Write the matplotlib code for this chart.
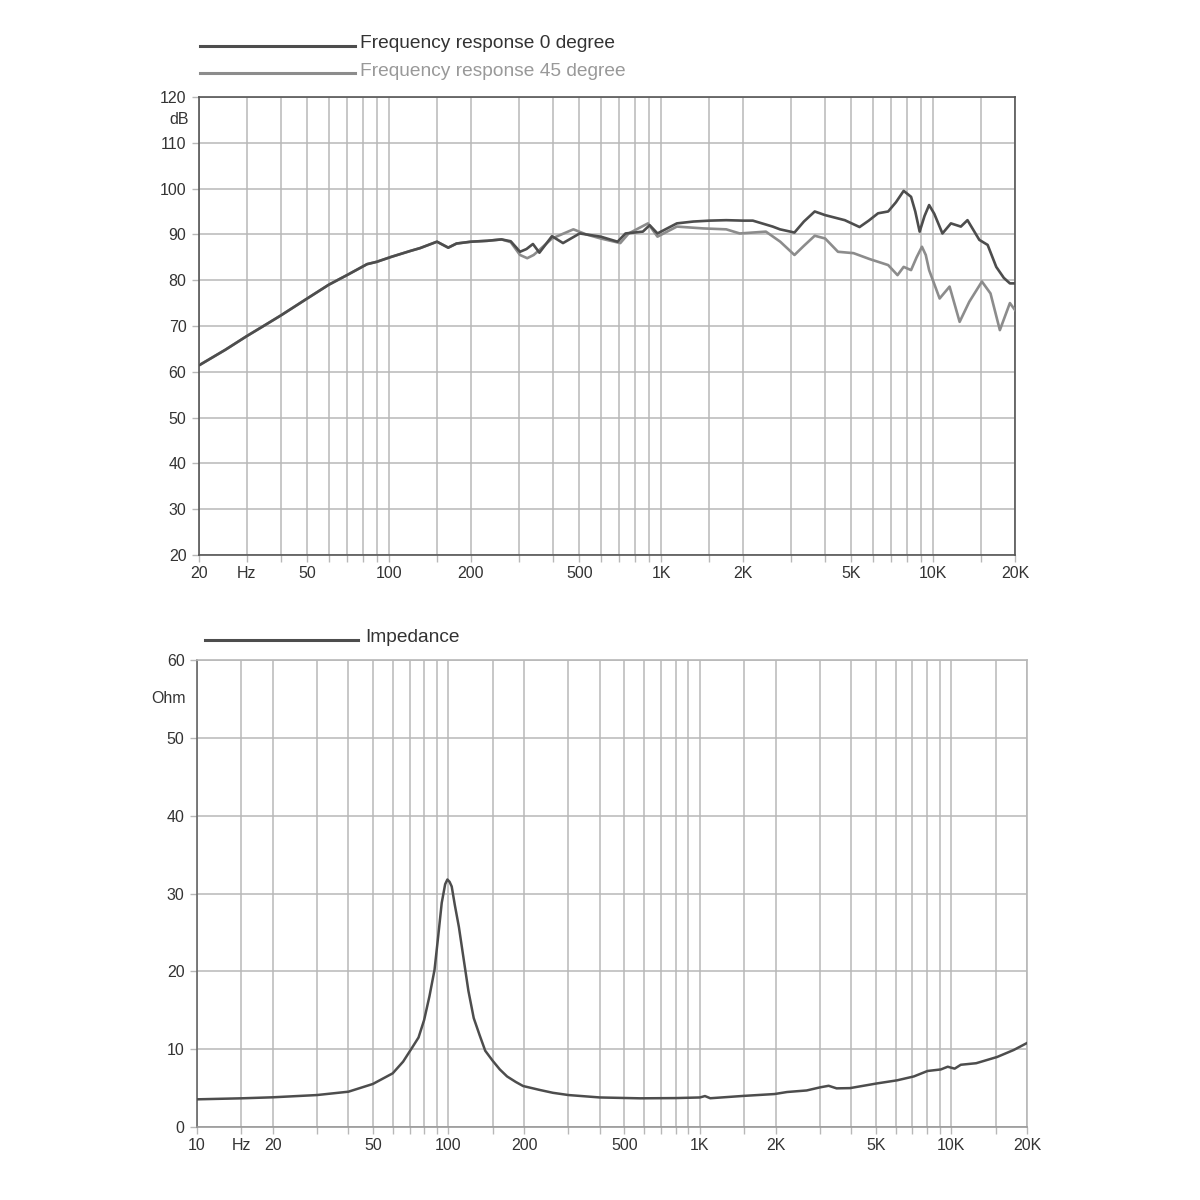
import numpy as np
import matplotlib.pyplot as plt
from matplotlib.lines import Line2D

plt.rcParams["font.family"] = ["Liberation Sans", "DejaVu Sans"]

# frequency response, 0 degree
f_0deg = [20, 25, 30, 35, 40, 50, 60, 70, 83, 90, 102, 120, 130, 150, 165, 177,
          200, 230, 259, 280, 303, 320, 338, 357, 397, 436, 502, 600, 692, 740,
          857, 908, 970, 1143, 1313, 1508, 1736, 2000, 2174, 2573, 2736, 3093,
          3350, 3672, 4011, 4735, 5367, 5800, 6275, 6837, 7300, 7795, 8300, 8600,
          8925, 9300, 9670, 10100, 10825, 11630, 12650, 13380, 14790, 15870,
          17070, 18200, 19160, 20000]
db_0deg = [61.4, 64.8, 67.8, 70.2, 72.3, 76.0, 79.0, 81.1, 83.5, 84.0, 85.1, 86.4,
           87.0, 88.4, 87.1, 88.0, 88.4, 88.6, 88.9, 88.5, 86.2, 86.8, 87.9, 86.0,
           89.6, 88.1, 90.2, 89.5, 88.4, 90.2, 90.6, 92.0, 90.2, 92.4, 92.8, 93.0,
           93.1, 93.0, 93.0, 91.7, 91.1, 90.4, 92.8, 95.0, 94.2, 93.1, 91.6, 93.0,
           94.6, 95.0, 97.0, 99.5, 98.2, 95.0, 90.6, 94.0, 96.4, 94.5, 90.2, 92.4,
           91.7, 93.1, 88.8, 87.7, 82.9, 80.5, 79.3, 79.3]

# frequency response, 45 degree
f_45deg = [20, 25, 30, 35, 40, 50, 60, 70, 83, 90, 102, 120, 130, 150, 165, 177,
           200, 230, 259, 280, 303, 322, 340, 357, 397, 476, 530, 600, 708, 760,
           895, 970, 1143, 1430, 1736, 1946, 2428, 2742, 3093, 3350, 3672, 4011,
           4470, 5100, 5850, 6837, 7400, 7795, 8300, 8700, 9100, 9400, 9670,
           10570, 11500, 12520, 13590, 15120, 16260, 17600, 19160, 20000]
db_45deg = [61.4, 64.8, 67.8, 70.2, 72.3, 76.0, 79.0, 81.1, 83.5, 84.0, 85.1, 86.4,
            87.0, 88.4, 87.1, 88.0, 88.4, 88.6, 88.9, 88.3, 85.5, 84.8, 85.5, 86.6,
            89.1, 91.1, 90.0, 89.1, 88.1, 90.2, 92.4, 89.5, 91.7, 91.3, 91.1, 90.2,
            90.6, 88.4, 85.5, 87.5, 89.7, 89.1, 86.2, 85.9, 84.6, 83.3, 81.1, 82.9,
            82.2, 85.0, 87.3, 85.5, 82.2, 76.0, 78.6, 70.9, 75.3, 79.7, 77.1, 69.1,
            75.0, 73.5]

# impedance
f_imp = [10, 15, 20, 30, 40, 50, 60, 66, 72, 76, 80, 84, 88, 91, 94, 97, 99, 101,
         103, 106, 110, 115, 120, 126, 133, 140, 150, 160, 171, 185, 198, 231,
         260, 300, 400, 578, 800, 1000, 1047, 1099, 1490, 1980, 2221, 2658, 3006,
         3250, 3495, 3950, 5050, 6080, 7090, 8035, 9080, 9670, 10300, 10900,
         12550, 15200, 17700, 20000]
ohm_imp = [3.56, 3.69, 3.82, 4.11, 4.54, 5.53, 6.9, 8.4, 10.3, 11.5, 13.75, 16.8,
           20.2, 24.5, 28.8, 31.2, 31.8, 31.5, 30.9, 28.5, 25.7, 21.5, 17.5, 14.0,
           11.8, 9.8, 8.5, 7.4, 6.5, 5.8, 5.27, 4.76, 4.4, 4.11, 3.8, 3.69, 3.72,
           3.8, 3.98, 3.7, 4.0, 4.24, 4.5, 4.7, 5.1, 5.3, 4.97, 5.0, 5.6, 6.0, 6.5,
           7.2, 7.4, 7.75, 7.5, 8.0, 8.2, 9.0, 9.9, 10.8]

grid_top = [30, 40, 50, 60, 70, 80, 90, 100, 150, 200, 300, 400, 500, 600, 700,
            800, 900, 1000, 1500, 2000, 3000, 4000, 5000, 6000, 7000, 8000, 9000,
            10000, 15000, 20000]
grid_bot = [15, 20] + grid_top
labels_top = {20: "20", 30: "Hz", 50: "50", 100: "100", 200: "200", 500: "500",
              1000: "1K", 2000: "2K", 5000: "5K", 10000: "10K", 20000: "20K"}
labels_bot = {10: "10", 15: "Hz", 20: "20", 50: "50", 100: "100", 200: "200",
              500: "500", 1000: "1K", 2000: "2K", 5000: "5K", 10000: "10K",
              20000: "20K"}

grid_c = "#b8b8b8"
text_c = "#333333"
dark = "#4d4d4d"
light = "#8c8c8c"


def style_axes(ax, xmin, xmax, xgrid, xlabels, yticks, frame_c):
    ax.set_xscale("log")
    ax.set_xlim(xmin, xmax)
    xt = sorted(set([xmin] + xgrid))
    ax.set_xticks(xt)
    ax.set_xticklabels([xlabels.get(v, "") for v in xt])
    ax.xaxis.set_minor_locator(plt.NullLocator())
    ax.set_yticks(yticks)
    ax.set_yticklabels([str(v) for v in yticks])
    ax.grid(True, color=grid_c, lw=1.1, zorder=0)
    ax.tick_params(length=5, width=1, color=grid_c, labelsize=11.5,
                   labelcolor=text_c, pad=4)
    ax.tick_params(axis="x", pad=3)
    for s in ax.spines.values():
        s.set_color(frame_c)
        s.set_linewidth(1.2)


fig = plt.figure(figsize=(12, 12), dpi=100)

ax1 = fig.add_axes([0.1658, 0.5375, 0.68, 0.3817])
ax1.plot(f_45deg, db_45deg, color=light, lw=1.9, zorder=3)
ax1.plot(f_0deg, db_0deg, color=dark, lw=1.9, zorder=4)
ax1.set_ylim(20, 120)
style_axes(ax1, 20, 20000, grid_top, labels_top, list(range(20, 121, 10)), "#555555")
ax1.text(-0.012, 0.95, "dB", transform=ax1.transAxes, ha="right", va="center",
         fontsize=11.5, color=text_c)

ax2 = fig.add_axes([0.1642, 0.0608, 0.6917, 0.3892])
ax2.plot(f_imp, ohm_imp, color=dark, lw=1.8, zorder=3)
ax2.set_ylim(0, 60)
style_axes(ax2, 10, 20000, grid_bot, labels_bot, list(range(0, 61, 10)), grid_c)
ax2.spines["left"].set_color("#666666")
ax2.spines["bottom"].set_color("#999999")
ax2.text(-0.014, 55 / 60, "Ohm", transform=ax2.transAxes, ha="right", va="center",
         fontsize=11.5, color=text_c)

# legends drawn as header lines
fig.add_artist(Line2D([200 / 1200, 355 / 1200], [1 - 46 / 1200] * 2,
                      transform=fig.transFigure, color=dark, lw=2.2))
fig.text(360 / 1200, 1 - 44 / 1200, "Frequency response 0 degree",
         fontsize=13.8, color=text_c, va="center")
fig.add_artist(Line2D([200 / 1200, 355 / 1200], [1 - 73 / 1200] * 2,
                      transform=fig.transFigure, color=light, lw=2.2))
fig.text(360 / 1200, 1 - 71 / 1200, "Frequency response 45 degree",
         fontsize=13.8, color="#999999", va="center")
fig.add_artist(Line2D([205 / 1200, 358 / 1200], [1 - 640 / 1200] * 2,
                      transform=fig.transFigure, color=dark, lw=2.2))
fig.text(365 / 1200, 1 - 638 / 1200, "Impedance",
         fontsize=13.8, color=text_c, va="center")

fig.savefig("out.png", dpi=100, facecolor="white")
